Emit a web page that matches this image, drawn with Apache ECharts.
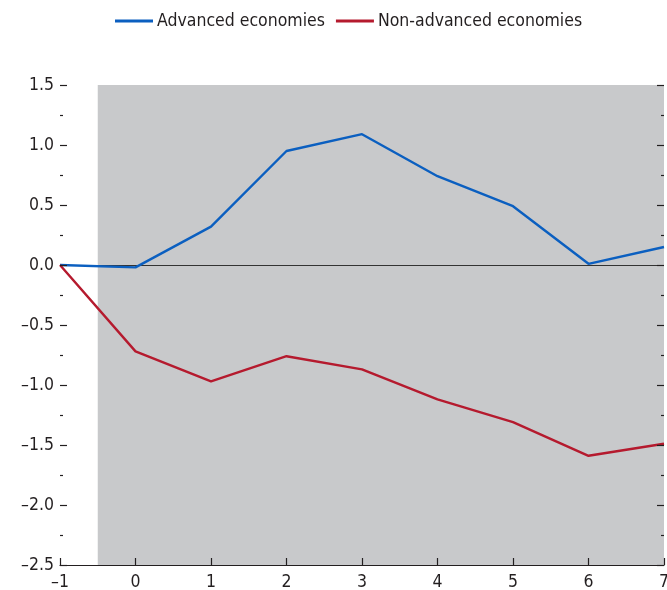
<!DOCTYPE html>
<html><head><meta charset="utf-8">
<script src="https://cdn.jsdelivr.net/npm/echarts@6/dist/echarts.min.js"></script>
<style>html,body{margin:0;padding:0;background:#fff}#c{width:667px;height:590px}</style>
</head><body><div id="c"></div>
<script>
var years = [-1, 0, 1, 2, 3, 4, 5, 6, 7];
var advanced = [0, -0.02, 0.32, 0.95, 1.09, 0.74, 0.49, 0.01, 0.15];
var nonAdvanced = [0, -0.72, -0.97, -0.76, -0.87, -1.12, -1.31, -1.59, -1.49];
var seriesNames = ['Advanced economies', 'Non-advanced economies'];
var shadeFrom = -0.5, shadeTo = 7;

var FONT = '"DejaVu Sans Condensed", "Liberation Sans", Arial, sans-serif';
var TXT = '#231f20';
function fmtY(v){ var s = Math.abs(v).toFixed(1); return v < 0 ? '\u2013' + s : s; }
function fmtX(v){ return v < 0 ? '\u2013' + Math.abs(v) : String(v); }
function pairs(vals){ return years.map(function(x,i){ return [x, vals[i]]; }); }

var chart = echarts.init(document.getElementById('c'));
var yBase = {
  type: 'value', min: -2.5, max: 1.5, interval: 0.5, z: 10,
  axisLine: { show: true, onZero: false, lineStyle: { color: 'rgba(0,0,0,0)' } },
  axisTick: { show: true, inside: true, length: 7, lineStyle: { color: TXT, width: 1.2 } },
  minorTick: { show: true, splitNumber: 2, length: 3, lineStyle: { color: TXT, width: 1.2 } },
  splitLine: { show: false }, minorSplitLine: { show: false }
};
chart.setOption({
  animation: false,
  legend: {
    top: 7, left: 110, itemWidth: 38, itemHeight: 3, itemGap: 11, icon: 'rect',
    textStyle: { fontFamily: FONT, fontSize: 17.5, color: TXT, padding: [0,0,0,-1] },
    data: seriesNames
  },
  grid: { left: 60, right: 3, top: 85, bottom: 25, containLabel: false, outerBoundsMode: 'none' },
  xAxis: {
    type: 'value', min: -1, max: 7, interval: 1, z: 10,
    axisLine: { show: true, onZero: false, lineStyle: { color: TXT, width: 1.2 } },
    axisTick: { show: true, inside: true, length: 7, lineStyle: { color: TXT, width: 1.2 } },
    axisLabel: { fontFamily: FONT, fontSize: 17.5, color: TXT, margin: 8, formatter: fmtX, showMaxLabel: true },
    splitLine: { show: false }
  },
  yAxis: [
    Object.assign({}, yBase, { position: 'left',
      axisLabel: { fontFamily: FONT, fontSize: 17.5, color: TXT, margin: 6, formatter: fmtY } }),
    Object.assign({}, yBase, { position: 'right', axisLabel: { show: false } })
  ],
  series: [
    {
      name: seriesNames[0], type: 'line', data: pairs(advanced), symbol: 'none',
      lineStyle: { color: '#0b5fc0', width: 2.4 }, itemStyle: { color: '#0b5fc0' }, z: 5,
      markArea: {
        silent: true, itemStyle: { color: '#c8c9cb' },
        data: [[{ xAxis: shadeFrom }, { xAxis: shadeTo }]]
      },
      markLine: {
        silent: true, symbol: 'none', label: { show: false },
        lineStyle: { color: '#333', width: 1, type: 'solid' },
        data: [{ yAxis: 0 }]
      }
    },
    {
      name: seriesNames[1], type: 'line', data: pairs(nonAdvanced), symbol: 'none',
      lineStyle: { color: '#b51a2e', width: 2.4 }, itemStyle: { color: '#b51a2e' }, z: 5
    }
  ]
});
</script></body></html>
